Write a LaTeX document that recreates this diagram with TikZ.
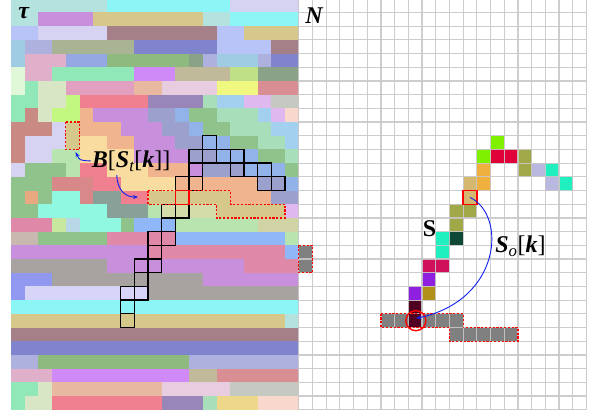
\documentclass[tikz,border=0pt]{standalone}
\usepackage{fontspec}
\setmainfont{Liberation Serif}
\usetikzlibrary{arrows.meta, positioning, calc}
% mosaic colours
\definecolor{mTeal}{HTML}{B4E2DF}
\definecolor{mCyan}{HTML}{8CF5F5}
\definecolor{mLav}{HTML}{D6D2F2}
\definecolor{mLav2}{HTML}{D8D4F8}
\definecolor{mOrchid}{HTML}{C890DC}
\definecolor{mKhaki}{HTML}{D6C78A}
\definecolor{mPeri}{HTML}{B8C4F8}
\definecolor{mMauve}{HTML}{A68088}
\definecolor{mLblue}{HTML}{9FCBE3}
\definecolor{mLavblue}{HTML}{AEB0DE}
\definecolor{mSage}{HTML}{A8B494}
\definecolor{mSlate}{HTML}{8084CC}
\definecolor{mPinklilac}{HTML}{E0B0CA}
\definecolor{mCorn}{HTML}{96A8E4}
\definecolor{mCorn2}{HTML}{92B2EA}
\definecolor{mCorn3}{HTML}{90B8F8}
\definecolor{mGreen}{HTML}{8EBA80}
\definecolor{mGreen2}{HTML}{90C28C}
\definecolor{mGraygreen}{HTML}{8AA288}
\definecolor{mVlgreen}{HTML}{E0F8D8}
\definecolor{mMint}{HTML}{90E8B8}
\definecolor{mLmint}{HTML}{A8DEBA}
\definecolor{mMcyan}{HTML}{90F8E0}
\definecolor{mViolet}{HTML}{D08AF8}
\definecolor{mTan}{HTML}{C0BA9A}
\definecolor{mLgreen}{HTML}{C0E088}
\definecolor{mLgreen2}{HTML}{B8E4B0}
\definecolor{mYgreen}{HTML}{C8E8A0}
\definecolor{mCream}{HTML}{D8E6C6}
\definecolor{mCream2}{HTML}{D4DCAA}
\definecolor{mPkhaki}{HTML}{D0D4A4}
\definecolor{mPink}{HTML}{E2A0C0}
\definecolor{mPink2}{HTML}{E088A8}
\definecolor{mPeach}{HTML}{E8B8A0}
\definecolor{mApricot}{HTML}{F0B48E}
\definecolor{mPpeach}{HTML}{F8D8CC}
\definecolor{mPyellow}{HTML}{F8DCA0}
\definecolor{mLpink}{HTML}{E8CCE0}
\definecolor{mYellow}{HTML}{F0F880}
\definecolor{mRose}{HTML}{D88E92}
\definecolor{mRose2}{HTML}{D88888}
\definecolor{mLime}{HTML}{C2F880}
\definecolor{mCoral}{HTML}{F08090}
\definecolor{mSalmon}{HTML}{E8A880}
\definecolor{mMpurple}{HTML}{9886B8}
\definecolor{mSky}{HTML}{A4D0F0}
\definecolor{mIce}{HTML}{B8D8E8}
\definecolor{mLilac}{HTML}{E0B8F0}
\definecolor{mLgray}{HTML}{C6C8C2}
\definecolor{mDrose}{HTML}{C88A82}
\definecolor{mGrayblue}{HTML}{9CA0CC}
\definecolor{mGteal}{HTML}{88A098}
\definecolor{mBeige}{HTML}{C8B8B0}
\definecolor{mGray}{HTML}{A8A2A0}
\definecolor{mBlue}{HTML}{9098F0}
\definecolor{mGold}{HTML}{ECD888}
% grid colours
\definecolor{pLime}{HTML}{7FF000}
\definecolor{pRed}{HTML}{E0003A}
\definecolor{pOlive}{HTML}{A0A848}
\definecolor{pOrange}{HTML}{F0B040}
\definecolor{pLav}{HTML}{B8B8E0}
\definecolor{pTurq}{HTML}{20F0C0}
\definecolor{pTan}{HTML}{D4B870}
\definecolor{pDkgreen}{HTML}{104838}
\definecolor{pCrimson}{HTML}{D0105A}
\definecolor{pPurple}{HTML}{9020E0}
\definecolor{pGold}{HTML}{B09018}
\definecolor{pMaroon}{HTML}{500020}
\definecolor{bandgray}{HTML}{808080}
\definecolor{gridgray}{HTML}{C8C8C8}
\definecolor{arrowblue}{HTML}{1020F0}

\tikzset{
  gridline/.style={draw=gridgray, line width=1.2pt},
  pathbox/.style={draw=black, line width=1.3pt},
  dashband/.style={draw=red, line width=1.2pt, dash pattern=on 2.2pt off 1.6pt},
  hitbox/.style={draw=red, line width=1.4pt},
  bluearrow/.style={draw=arrowblue, line width=0.9pt, -{Stealth[length=5pt, width=4pt]}},
  biglabel/.style={font=\fontsize{24}{28}\selectfont\bfseries\itshape, inner sep=1pt, anchor=base west},
}

\begin{document}
\begin{tikzpicture}[x=13.7pt, y=-13.7pt, >=Stealth]
    \useasboundingbox (-0.803,0.095) rectangle (42.48,30.31);
    \clip (-0.803,0.095) rectangle (42.48,30.31);

    % tau mosaic, row/first/last/colour
    \foreach \r/\a/\b/\clr in {
        0/0/6/mTeal, 0/7/15/mCyan, 0/16/20/mLav,
        1/0/1/mTeal, 1/2/5/mOrchid, 1/6/13/mKhaki, 1/14/15/mTeal, 1/16/20/mCyan,
        2/0/1/mPeri, 2/2/6/mLav, 2/7/14/mMauve, 2/15/16/mPeri, 2/17/20/mKhaki,
        3/0/0/mLblue, 3/1/2/mLavblue, 3/3/8/mSage, 3/9/14/mSlate, 3/15/18/mPeri, 3/19/20/mMauve,
        4/0/0/mLblue, 4/1/3/mPinklilac, 4/4/6/mCorn, 4/7/12/mGreen, 4/13/13/mGraygreen,
        4/14/14/mLavblue, 4/15/17/mLblue, 4/18/18/mLavblue, 4/19/20/mSlate,
        5/0/0/mVlgreen, 5/1/2/mPinklilac, 5/3/8/mMint, 5/9/11/mViolet, 5/12/15/mTan,
        5/16/17/mLgreen, 5/18/20/mGraygreen,
        6/0/0/mVlgreen, 6/1/1/mMint, 6/2/3/mCream, 6/4/8/mPink, 6/9/10/mPeach,
        6/11/14/mLpink, 6/15/17/mYellow, 6/18/20/mRose,
        7/0/1/mMint, 7/2/3/mCream, 7/4/4/mLime, 7/5/9/mCoral, 7/10/13/mMpurple,
        7/14/14/mLmint, 7/15/16/mSky, 7/17/18/mLilac, 7/19/20/mLgray,
        8/0/0/mMint, 8/1/1/mDrose, 8/2/2/mCream, 8/3/4/mLime, 8/5/5/mApricot, 8/6/9/mOrchid,
        8/10/11/mGrayblue, 8/12/12/mCorn2, 8/13/14/mGreen2, 8/15/17/mLmint, 8/18/18/mSky,
        8/19/19/mLilac, 8/20/20/mPpeach,
        9/0/2/mDrose, 9/3/3/mLav, 9/4/4/mKhaki, 9/5/7/mApricot, 9/8/10/mOrchid,
        9/11/12/mGrayblue, 9/13/13/mCorn2, 9/14/15/mGreen2, 9/16/18/mLmint, 9/19/20/mSky,
        10/0/0/mDrose, 10/1/3/mLav, 10/4/4/mKhaki, 10/5/6/mPyellow, 10/7/8/mApricot,
        10/9/11/mOrchid, 10/12/13/mGrayblue, 10/14/15/mCorn2, 10/16/17/mGreen2,
        10/18/19/mLmint, 10/20/20/mSky,
        11/0/0/mDrose, 11/1/2/mLav, 11/3/4/mLgreen2, 11/5/8/mPyellow, 11/9/12/mOrchid,
        11/13/14/mGrayblue, 11/15/17/mCorn2, 11/18/19/mGreen2, 11/20/20/mLmint,
        12/0/0/mLav, 12/1/3/mGreen2, 12/4/4/mLgreen2, 12/5/6/mCoral, 12/7/9/mPyellow,
        12/10/12/mApricot, 12/13/13/mOrchid, 12/14/16/mGrayblue, 12/17/19/mCorn2, 12/20/20/mGreen2,
        13/0/2/mGreen2, 13/3/5/mRose2, 13/6/7/mCoral, 13/8/11/mPyellow, 13/12/17/mApricot,
        13/18/19/mGrayblue, 13/20/20/mCorn2,
        14/0/0/mGreen2, 14/1/1/mSalmon, 14/2/2/mGreen2, 14/3/4/mMcyan, 14/5/5/mRose2,
        14/6/7/mGteal, 14/8/9/mCoral, 14/10/15/mKhaki, 14/16/18/mApricot, 14/19/20/mGrayblue,
        15/0/1/mGreen2, 15/2/6/mMcyan, 15/7/9/mGteal, 15/10/10/mLgreen2, 15/11/14/mCream2,
        15/15/19/mKhaki, 15/20/20/mLilac,
        16/0/2/mPink2, 16/3/3/mYgreen, 16/4/4/mIce, 16/5/7/mMcyan, 16/8/8/mGreen2,
        16/9/11/mCorn3, 16/12/17/mLgreen2, 16/18/20/mPkhaki,
        17/0/1/mBeige, 17/2/6/mGreen2, 17/7/11/mPink2, 17/12/19/mCorn3, 17/20/20/mLgreen2,
        18/0/9/mOrchid, 18/10/19/mPink2, 18/20/20/mCorn3,
        19/0/6/mGray, 19/7/16/mOrchid, 19/17/20/mPink2,
        20/0/2/mBlue, 20/3/13/mGray, 20/14/20/mOrchid,
        21/0/0/mBlue, 21/1/9/mLav2, 21/10/20/mGray,
        22/0/20/mCyan,
        23/0/19/mKhaki, 23/20/20/mTeal,
        24/0/20/mMauve,
        25/0/20/mSlate,
        26/0/1/mLavblue, 26/2/12/mGreen, 26/13/20/mLavblue,
        27/0/2/mPinklilac, 27/3/12/mViolet, 27/13/14/mTan, 27/15/20/mRose,
        28/0/1/mMint, 28/2/2/mCream, 28/3/10/mPeach, 28/11/15/mLpink, 28/16/20/mLgray,
        29/0/0/mMint, 29/1/2/mCream, 29/3/10/mCoral, 29/11/13/mMpurple, 29/14/14/mLmint,
        29/15/17/mGold, 29/18/20/mPpeach}
        \fill[\clr] (\a,\r) rectangle (\b+1,\r+1);

    % traced cells on the mosaic
    \foreach \c/\r in {14/10, 13/11, 14/11, 15/11, 16/11, 13/12, 16/12, 17/12, 18/12,
        12/13, 13/13, 18/13, 19/13, 11/15, 12/15, 11/16, 10/17, 11/17, 10/18,
        9/19, 10/19, 9/20, 8/21, 9/21, 8/22, 8/23}
        \draw[pathbox] (\c,\r) rectangle (\c+1,\r+1);
    \draw[dashband] (4,9) rectangle (5,11);
    \draw[dashband] (10,14) -- (16,14) -- (16,15) -- (20,15) -- (20,16) -- (15,16)
        -- (15,15) -- (10,15) -- cycle;
    \draw[hitbox] (12,14) rectangle (13,15);

    % N grid, coloured cells first
    \foreach \c/\r/\clr in {35/10/pLime, 34/11/pLime, 35/11/pRed, 36/11/pRed, 37/11/pOlive,
        34/12/pOrange, 37/12/pOlive, 38/12/pLav, 39/12/pTurq, 33/13/pTan, 34/13/pOrange,
        39/13/pLav, 40/13/pTurq, 33/14/pTan, 32/15/pOlive, 33/15/pOlive, 32/16/pOlive,
        31/17/pTurq, 32/17/pDkgreen, 31/18/pTurq, 30/19/pCrimson, 31/19/pCrimson,
        30/20/pPurple, 29/21/pPurple, 30/21/pGold, 29/22/pMaroon}
        \fill[\clr] (\c,\r) rectangle (\c+1,\r+1);
    \fill[bandgray] (27,23) -- (33,23) -- (33,24) -- (37,24) -- (37,25) -- (32,25)
        -- (32,24) -- (27,24) -- cycle;
    \fill[pMaroon] (29,23) rectangle (30,24);
    \fill[bandgray] (21,18) rectangle (22,20);
    \foreach \i in {21,...,42}
        \draw[gridline, opacity=0.9] (\i,0) -- (\i,30);
    \foreach \j in {0,...,30}
        \draw[gridline, opacity=0.9] (21,\j) -- (42,\j);
    \draw[dashband] (27,23) -- (33,23) -- (33,24) -- (37,24) -- (37,25) -- (32,25)
        -- (32,24) -- (27,24) -- cycle;
    \draw[dashband] (21,18) rectangle (22,20);
    \draw[hitbox] (33,14) rectangle (34,15);
    \node[circle, draw=red, line width=1.4pt, minimum size=20pt, inner sep=0pt] (origin) at (29.55,23.5) {};

    % labels
    \node[biglabel] (tau) at (0.45,1.43) {τ};
    \node[biglabel] (ncap) at (21.4,1.8) {N};
    \node[biglabel] (bst) at (5.82,12.31)
        {B{\mdseries\upshape[}S\textsubscript{\mdseries t}{\mdseries\upshape[}k{\mdseries\upshape]]}};
    \node[biglabel, font=\fontsize{24}{28}\selectfont\bfseries\upshape] (seq) at (29.98,17.37) {S};
    \node[biglabel] (sok) at (35.26,18.56)
        {S\textsubscript{\mdseries o}{\mdseries\upshape[}k{\mdseries\upshape]}};

    % arrows
    \coordinate (blocktip) at (4.72,11.2);
    \coordinate (bandtip) at (9.27,14.47);
    \coordinate (bstfoot) at (7.72,12.87);
    \coordinate (hitcell) at (33.5,14.5);
    \coordinate (origintip) at (29.58,23.33);
    \draw[bluearrow] (bst.west) .. controls (5.0,11.8) .. (blocktip);
    \draw[bluearrow] (bstfoot) .. controls (7.75,14.0) and (8.4,14.5) .. (bandtip);
    \draw[bluearrow] (hitcell) .. controls (36.2,15.8) and (35.8,22.0) .. (origintip);
\end{tikzpicture}
\end{document}
